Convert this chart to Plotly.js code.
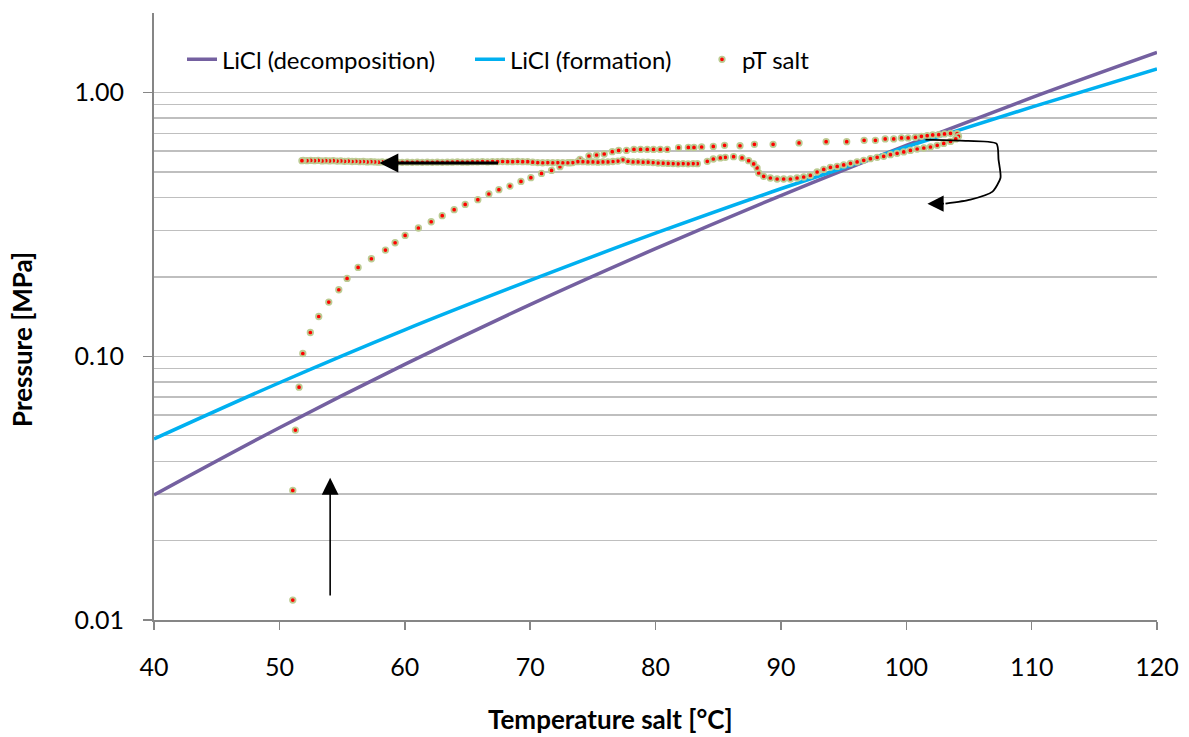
<!DOCTYPE html>
<html>
<head>
<meta charset="utf-8">
<script src="https://cdn.plot.ly/plotly-3.0.1.min.js"></script>
<style>
  html, body { margin: 0; padding: 0; background: #fff; }
  #chart { width: 1189px; height: 737px; }
</style>
</head>
<body>
<div id="chart"></div>
<script>
// Equilibrium lines (temperature °C, pressure MPa)
const lineT = [40, 50, 60, 70, 80, 90, 100, 110, 120];
const decompP = [0.0298, 0.0536, 0.0932, 0.157, 0.256, 0.407, 0.631, 0.957, 1.42];
const formP = [0.0486, 0.0794, 0.126, 0.194, 0.293, 0.432, 0.623, 0.881, 1.23];

// pT salt measurement: rising branch (heating)
const riseT = [51.07, 51.07, 51.28, 51.57, 51.87, 52.47, 53.14, 53.94, 54.74, 55.40, 56.28, 57.34, 58.46, 59.23, 60.03, 61.09, 62.11, 62.99, 63.94, 64.82, 65.83, 66.71, 67.51, 68.39, 69.27, 70.06, 70.91, 71.71, 72.38, 73.20, 73.98, 74.69, 75.30, 75.91, 76.55, 77.06, 77.69, 78.28, 78.81, 79.34, 79.84, 80.38, 80.94, 81.84, 82.62, 83.07, 83.68, 84.61, 85.51, 86.74, 87.89, 89.38, 91.45, 93.61, 95.25, 96.64, 97.54, 98.32, 99.00, 99.62, 100.15, 100.73, 101.21, 101.67, 102.11, 102.59, 103.05, 103.53, 104.06, 104.17];
const riseP = [0.0119, 0.0310, 0.0525, 0.0764, 0.1025, 0.1231, 0.1416, 0.1606, 0.1788, 0.1974, 0.2173, 0.2344, 0.2529, 0.2696, 0.2874, 0.3066, 0.3238, 0.3414, 0.3597, 0.3768, 0.3926, 0.4126, 0.4284, 0.4424, 0.4606, 0.4757, 0.4939, 0.5070, 0.5237, 0.542, 0.5582, 0.5751, 0.5801, 0.5852, 0.5971, 0.6039, 0.6039, 0.6092, 0.6092, 0.6092, 0.6092, 0.6092, 0.6092, 0.6184, 0.6200, 0.6200, 0.6221, 0.6254, 0.6310, 0.6290, 0.6365, 0.6365, 0.6443, 0.6516, 0.6516, 0.6592, 0.6592, 0.6672, 0.6672, 0.6731, 0.6731, 0.6767, 0.6826, 0.6868, 0.6910, 0.6928, 0.6971, 0.7008, 0.6990, 0.6826];

// pT salt: return branch (cooling)
const backT = [103.95, 103.53, 102.99, 102.47, 101.93, 101.40, 100.87, 100.33, 99.80, 99.27, 98.74, 98.20, 97.68, 97.14, 96.61, 96.08, 95.55, 95.01, 94.49, 93.95, 93.42, 92.89, 92.35, 91.82, 91.29, 90.76, 90.22, 89.70, 89.16, 88.63, 88.23, 88.10, 87.83, 87.43, 86.90, 86.23, 85.57, 85.17, 84.61, 84.13, 83.34];
const backP = [0.6672, 0.6533, 0.6420, 0.6310, 0.6221, 0.6167, 0.6113, 0.6039, 0.5957, 0.5885, 0.5817, 0.5732, 0.5682, 0.5617, 0.5535, 0.5458, 0.5392, 0.5317, 0.5252, 0.5207, 0.5116, 0.5000, 0.4855, 0.4787, 0.4745, 0.4704, 0.4704, 0.4704, 0.4745, 0.4813, 0.4958, 0.5180, 0.5364, 0.5520, 0.5652, 0.5716, 0.5682, 0.5652, 0.5602, 0.5488, 0.5378];

// pT salt: flat lower branch
const flatT = [83.0, 82.6, 82.2, 81.8, 81.4, 81.0, 80.6, 80.2, 79.8, 79.4, 79.0, 78.6, 78.2, 77.8, 77.4, 77.0, 76.6, 76.2, 75.8, 75.4, 75.0, 74.6, 74.2, 73.8, 73.4, 73.0, 72.6, 72.2, 71.8, 71.4, 71.0, 70.6, 70.2, 69.8, 69.4, 69.0, 68.6, 68.2, 67.8, 67.4, 67.0, 66.6, 66.2, 65.8, 65.4, 65.0, 64.6, 64.2, 63.8, 63.4, 63.0, 62.6, 62.2, 61.8, 61.4, 61.0, 60.6, 60.2, 59.8, 59.4, 59.0, 58.6, 58.2, 57.9, 57.6, 57.3, 57.0, 56.7, 56.4, 56.1, 55.8, 55.5, 55.2, 54.9, 54.6, 54.3, 54.0, 53.7, 53.4, 53.1, 52.8, 52.5, 52.2, 51.9, 51.8];
const flatP = [0.538, 0.537, 0.538, 0.537, 0.538, 0.539, 0.540, 0.541, 0.543, 0.545, 0.545, 0.546, 0.546, 0.549, 0.556, 0.550, 0.548, 0.546, 0.546, 0.545, 0.546, 0.546, 0.547, 0.547, 0.543, 0.542, 0.542, 0.543, 0.542, 0.543, 0.542, 0.543, 0.545, 0.547, 0.547, 0.548, 0.547, 0.547, 0.548, 0.547, 0.547, 0.546, 0.547, 0.546, 0.546, 0.545, 0.545, 0.546, 0.545, 0.545, 0.544, 0.545, 0.544, 0.545, 0.544, 0.545, 0.544, 0.545, 0.544, 0.545, 0.546, 0.545, 0.546, 0.545, 0.546, 0.547, 0.546, 0.548, 0.547, 0.549, 0.548, 0.550, 0.549, 0.551, 0.550, 0.552, 0.551, 0.552, 0.551, 0.553, 0.552, 0.553, 0.552, 0.553, 0.552];

// Curved arrow body (drawn annotation path)
const curveT = [101.53, 104.33, 107.20, 107.36, 107.52, 106.88, 105.12, 103.13];
const curveP = [0.6632, 0.6574, 0.6404, 0.5568, 0.4757, 0.4211, 0.3926, 0.3791];

const saltT = riseT.concat(backT, flatT);
const saltP = riseP.concat(backP, flatP);

const FONT = 'Lato, "Open Sans", sans-serif';
const GRID = '#BFBFBF';
const AXIS = '#868686';
const L = Math.log10;

const traces = [
  { x: lineT, y: decompP, mode: 'lines', name: 'LiCl (decomposition)', legend: 'legend',
    line: { color: '#7460A0', width: 3.5, shape: 'spline' } },
  { x: lineT, y: formP, mode: 'lines', name: 'LiCl (formation)', legend: 'legend2',
    line: { color: '#00B0F0', width: 3.5, shape: 'spline' } },
  { x: saltT, y: saltP, mode: 'markers', name: 'pT salt', legend: 'legend3',
    marker: { color: '#FF0000', size: 5.5, line: { color: '#BCCB92', width: 1.8 } } },
  { x: curveT, y: curveP, mode: 'lines', showlegend: false, hoverinfo: 'skip',
    line: { color: '#000000', width: 1.8, shape: 'spline', smoothing: 0.6 } }
];

function leg(px) {
  return { orientation: 'h', x: (px - 154) / 1003, y: 0.923, xanchor: 'left', yanchor: 'middle',
           font: { size: 24, family: FONT }, bgcolor: 'rgba(0,0,0,0)' };
}

const layout = {
  width: 1189, height: 737,
  paper_bgcolor: '#ffffff', plot_bgcolor: '#ffffff',
  margin: { l: 154, r: 32, t: 13, b: 117 },
  font: { family: FONT, color: '#000000' },
  showlegend: true,
  legend: leg(182),
  legend2: leg(470),
  legend3: leg(702),
  xaxis: {
    range: [40, 120], dtick: 10, tick0: 40,
    showgrid: false, zeroline: false,
    showline: true, linecolor: AXIS, linewidth: 2,
    ticks: 'outside', ticklen: 8, tickcolor: AXIS, tickwidth: 1.5,
    tickfont: { size: 25, family: FONT }, ticklabelstandoff: 16
  },
  yaxis: {
    type: 'log', range: [-2, 0.302], dtick: 1, tickformat: '.2f',
    showgrid: true, gridcolor: GRID, gridwidth: 1.5, zeroline: false,
    showline: true, linecolor: AXIS, linewidth: 2,
    ticks: 'outside', ticklen: 9, tickcolor: AXIS, tickwidth: 1.5,
    tickfont: { size: 25, family: FONT }, ticklabelstandoff: 14,
    minor: { dtick: 'D1', showgrid: true, gridcolor: GRID, gridwidth: 1.5, ticks: '' }
  },
  annotations: [
    { xref: 'paper', yref: 'paper', x: (610 - 154) / 1003, y: -(719 - 620) / 607,
      xanchor: 'center', yanchor: 'middle', showarrow: false,
      text: '<b>Temperature salt [°C]</b>', font: { size: 26, family: FONT } },
    { xref: 'paper', yref: 'paper', x: -(154 - 22) / 1003, y: (620 - 340) / 607,
      xanchor: 'center', yanchor: 'middle', showarrow: false, textangle: -90,
      text: '<b>Pressure [MPa]</b>', font: { size: 26, family: FONT } },
    // vertical arrow (heating start)
    { xref: 'x', yref: 'y', axref: 'x', ayref: 'y', x: 54.05, y: L(0.0346),
      ax: 54.05, ay: L(0.01223), showarrow: true, arrowhead: 2, arrowsize: 2.1,
      arrowwidth: 1.6, arrowcolor: '#000000', text: '' },
    // horizontal arrow (cooling back)
    { xref: 'x', yref: 'y', axref: 'x', ayref: 'y', x: 57.98, y: L(0.541),
      ax: 67.56, ay: L(0.541), showarrow: true, arrowhead: 2, arrowsize: 1.35,
      arrowwidth: 2.8, arrowcolor: '#000000', text: '' },
    // curved arrow head
    { xref: 'x', yref: 'y', axref: 'x', ayref: 'y', x: 101.69, y: L(0.3791),
      ax: 103.13, ay: L(0.3791), showarrow: true, arrowhead: 2, arrowsize: 1.8,
      arrowwidth: 1.8, arrowcolor: '#000000', text: '' }
  ]
};

Plotly.newPlot('chart', traces, layout, { displayModeBar: false, staticPlot: true });
</script>
</body>
</html>
